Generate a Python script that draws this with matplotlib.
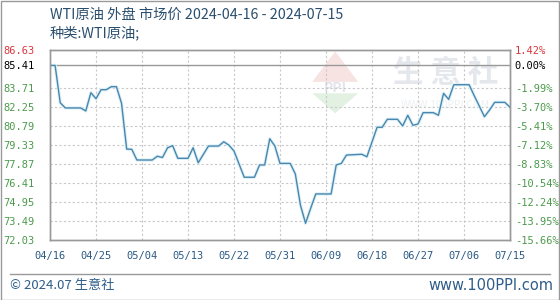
import numpy as np
import pandas as pd
import matplotlib
matplotlib.use("Agg")
import matplotlib.pyplot as plt
from matplotlib.patches import Polygon, Rectangle
from matplotlib.lines import Line2D

plt.rcParams['font.family'] = ['Noto Sans CJK SC', 'DejaVu Sans']

# data (day offset from 2024-04-16, price)
day_offset = [0, 1, 2, 3, 6, 7, 8, 9, 10, 11, 12, 13, 14, 15, 16, 17, 20, 21, 22, 23,
              24, 25, 27, 28, 29, 31, 33, 34, 35, 36, 38, 40, 41, 42, 43, 44, 45, 47,
              48, 49, 50, 51, 52, 55, 56, 57, 58, 61, 62, 64, 65, 66, 68, 69, 70, 71,
              72, 73, 75, 76, 77, 78, 79, 82, 83, 85, 86, 87, 89, 90]
price = [85.41, 85.41, 82.55, 82.15, 82.15, 81.92, 83.32, 82.86, 83.55, 83.55,
         83.78, 83.78, 82.50, 79.00, 78.98, 78.16, 78.16, 78.45, 78.35, 79.10,
         79.26, 78.29, 78.29, 79.10, 77.95, 79.23, 79.23, 79.56, 79.30, 78.85,
         76.84, 76.84, 77.78, 77.78, 79.79, 79.23, 77.90, 77.90, 77.09, 74.70,
         73.31, 74.46, 75.56, 75.56, 77.78, 77.90, 78.54, 78.60, 78.41, 80.67,
         80.67, 81.28, 81.28, 80.77, 81.59, 80.82, 80.92, 81.79, 81.79, 81.59,
         83.27, 82.81, 83.93, 83.93, 83.09, 81.48, 81.99, 82.58, 82.58, 82.20]

start = pd.Timestamp("2024-04-16")
dates = start + pd.to_timedelta(day_offset, unit="D")

base_price = 85.41
y_ticks = [86.63, 85.41, 83.71, 82.25, 80.79, 79.33, 77.87, 76.41, 74.95, 73.49, 72.03]
left_labels = ["86.63", "85.41", "83.71", "82.25", "80.79", "79.33", "77.87",
               "76.41", "74.95", "73.49", "72.03"]
right_labels = ["1.42%", "0.00%", "-1.99%", "-3.70%", "-5.41%", "-7.12%", "-8.83%",
                "-10.54%", "-12.24%", "-13.95%", "-15.66%"]
x_tick_labels = ["04/16", "04/25", "05/04", "05/13", "05/22", "05/31",
                 "06/09", "06/18", "06/27", "07/06", "07/15"]
x_ticks = [start + pd.Timedelta(days=9 * i) for i in range(len(x_tick_labels))]

title = "WTI原油 外盘 市场价 2024-04-16 - 2024-07-15"
subtitle = "种类:WTI原油;"

red = "#d9363e"
green = "#4c9a4c"
text_blue = "#2a4f6e"

fig = plt.figure(figsize=(5.6, 3.0), dpi=100)
ax = fig.add_axes([50 / 560, 60 / 300, 460 / 560, 190.5 / 300])

# watermark
ax.text(0.86, 0.875, "生 意 社", transform=ax.transAxes, fontsize=22,
        color="#e4e8ed", ha="center", va="center", fontweight="bold", zorder=0)
ax.text(0.86, 0.71, "WWW.100PPI.COM", transform=ax.transAxes, fontsize=7.5,
        color="#edf0f3", ha="center", va="center", zorder=0)
ax.add_patch(Polygon([[0.57, 0.83], [0.62, 0.99], [0.67, 0.83]], closed=True,
                     transform=ax.transAxes, color="#f8e3e3", zorder=0, lw=0))
ax.add_patch(Polygon([[0.57, 0.77], [0.62, 0.665], [0.67, 0.77]], closed=True,
                     transform=ax.transAxes, color="#e2f1e2", zorder=0, lw=0))
ax.text(0.62, 0.80, "PPI", transform=ax.transAxes, fontsize=10,
        color="#e2e6ec", ha="center", va="center", fontweight="bold", zorder=0)

ax.plot(dates, price, color="#dcf1f7", lw=2.4, zorder=2, solid_joinstyle="round")
ax.plot(dates, price, color="#4a86ad", lw=1.0, zorder=3)

ax.set_xlim(start, start + pd.Timedelta(days=90))
ax.set_ylim(y_ticks[-1], y_ticks[0])

ax.set_yticks(y_ticks)
ax.set_yticklabels(left_labels, family="DejaVu Sans Mono", fontsize=7.5)
for lbl, v in zip(ax.get_yticklabels(), y_ticks):
    lbl.set_color(red if v > base_price else ("black" if v == base_price else green))
ax.tick_params(axis="y", length=0, pad=11)

ax.set_xticks(x_ticks)
ax.set_xticklabels(x_tick_labels, family="DejaVu Sans Mono", fontsize=7.5,
                   color="#2a5a86")
ax.tick_params(axis="x", length=0, pad=8)

ax2 = ax.twinx()
ax2.set_ylim(ax.get_ylim())
ax2.set_yticks(y_ticks)
ax2.set_yticklabels(right_labels, family="DejaVu Sans Mono", fontsize=7.5)
for lbl, v in zip(ax2.get_yticklabels(), y_ticks):
    lbl.set_color(red if v > base_price else ("black" if v == base_price else green))
ax2.tick_params(axis="y", length=0, pad=3.5)

for t in y_ticks[2:-1]:
    ax.axhline(t, color="#c8c8c8", lw=0.8, ls=(0, (2, 2)), zorder=1)
for t in x_ticks[1:-1]:
    ax.axvline(t, color="#c8c8c8", lw=0.8, ls=(0, (2, 2)), zorder=1)
ax.axhline(base_price, color="#999999", lw=1.0, zorder=1)

for a in (ax, ax2):
    for s in a.spines.values():
        s.set_color("#999999")
        s.set_linewidth(1.0)

fig.text(50 / 560, 1 - 15 / 300, title, fontsize=10.3, color=text_blue,
         ha="left", va="center")
fig.text(50 / 560, 1 - 33 / 300, subtitle, fontsize=10.3, color=text_blue,
         ha="left", va="center")

fig.add_artist(Line2D([10 / 560, 550 / 560], [1 - 274 / 300, 1 - 274 / 300],
                      color="#999999", lw=1.0))
fig.text(10 / 560, 1 - 286 / 300, "© 2024.07 生意社", fontsize=9.5,
         color="#2e5d8a", ha="left", va="center")
fig.text(553 / 560, 1 - 286 / 300, "www.100PPI.com", fontsize=10.5,
         family="DejaVu Sans", color="#2e5d8a", ha="right", va="center")
fig.add_artist(Rectangle((0.5 / 560, 0.5 / 300), 558.5 / 560, 298.5 / 300,
                         transform=fig.transFigure, fill=False,
                         edgecolor="#999999", lw=1.0))

fig.savefig("out.png", dpi=100)
